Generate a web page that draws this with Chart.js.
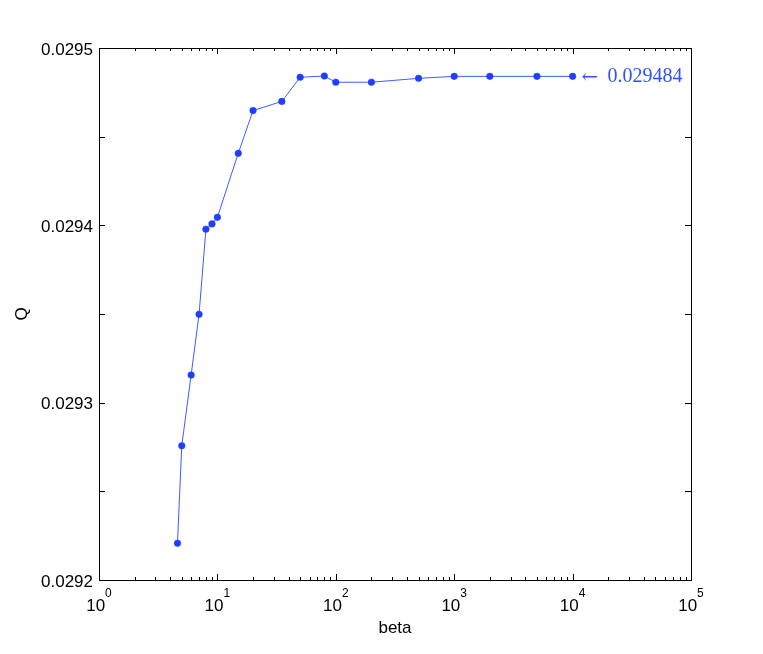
<!DOCTYPE html>
<html>
<head>
<meta charset="utf-8">
<script src="https://cdn.jsdelivr.net/npm/chart.js@4/dist/chart.umd.min.js"></script>
<style>
  html, body { margin: 0; padding: 0; background: #fff; }
  #wrap { width: 763px; height: 654px; }
</style>
</head>
<body>
<div id="wrap"><canvas id="qChart" width="763" height="654"></canvas></div>
<script>
// beta (log axis) vs Q
const betaValues = [4.6, 5, 6, 7, 8, 9, 10, 15, 20, 35, 50, 80, 100, 200, 500, 1000, 2000, 5000, 10000];
const qValues = [0.0292207, 0.0292757, 0.0293156, 0.0293498, 0.0293978, 0.0294008, 0.0294045,
                 0.0294406, 0.0294647, 0.0294699, 0.0294835, 0.0294842, 0.0294807, 0.0294807,
                 0.0294829, 0.029484, 0.029484, 0.029484, 0.029484];
const xDecades = [1, 10, 100, 1000, 10000, 100000];
const yTicks = [0.0292, 0.02925, 0.0293, 0.02935, 0.0294, 0.02945, 0.0295];
const yLabels = ['0.0292', '', '0.0293', '', '0.0294', '', '0.0295'];
const limitArrow = '\u2190';
const limitText = '0.029484';

const points = betaValues.map((b, i) => ({ x: b, y: qValues[i] }));

// frame, inward ticks, labels
const framePlugin = {
    id: 'frame',
    afterDraw(chart) {
        const { ctx, chartArea: a, scales } = chart;
        const xs = scales.x, ys = scales.y;
        ctx.save();
        ctx.strokeStyle = '#000';
        ctx.lineWidth = 1;
        ctx.strokeRect(a.left + 0.5, a.top + 0.5, a.right - a.left, a.bottom - a.top);

        ctx.beginPath();
        // x ticks (major + minor), bottom and top
        xDecades.forEach((d, i) => {
            const px = Math.round(xs.getPixelForValue(d)) + 0.5;
            ctx.moveTo(px, a.bottom); ctx.lineTo(px, a.bottom - 6);
            ctx.moveTo(px, a.top); ctx.lineTo(px, a.top + 6);
            if (i < xDecades.length - 1) {
                for (let k = 2; k <= 9; k++) {
                    const mx = Math.round(xs.getPixelForValue(d * k)) + 0.5;
                    ctx.moveTo(mx, a.bottom); ctx.lineTo(mx, a.bottom - 3);
                    ctx.moveTo(mx, a.top); ctx.lineTo(mx, a.top + 3);
                }
            }
        });
        // y ticks, left and right
        yTicks.forEach(v => {
            const py = Math.round(ys.getPixelForValue(v)) + 0.5;
            ctx.moveTo(a.left, py); ctx.lineTo(a.left + 6, py);
            ctx.moveTo(a.right, py); ctx.lineTo(a.right - 6, py);
        });
        ctx.stroke();

        ctx.fillStyle = '#000';
        // y labels
        ctx.font = '17px "Liberation Sans", Arial, sans-serif';
        ctx.textAlign = 'right';
        ctx.textBaseline = 'middle';
        yTicks.forEach((v, i) => {
            if (yLabels[i]) ctx.fillText(yLabels[i], a.left - 6, ys.getPixelForValue(v) + 2);
        });
        // x labels 10^n
        xDecades.forEach(d => {
            const px = xs.getPixelForValue(d);
            const exp = String(Math.round(Math.log10(d)));
            ctx.font = '17px "Liberation Sans", Arial, sans-serif';
            const w1 = ctx.measureText('10').width;
            ctx.font = '12px "Liberation Sans", Arial, sans-serif';
            const w2 = ctx.measureText(exp).width;
            const left = px - (w1 + w2) / 2;
            ctx.textAlign = 'left';
            ctx.textBaseline = 'alphabetic';
            ctx.font = '17px "Liberation Sans", Arial, sans-serif';
            ctx.fillText('10', left, a.bottom + 31);
            ctx.font = '12px "Liberation Sans", Arial, sans-serif';
            ctx.fillText(exp, left + w1, a.bottom + 17);
        });
        // axis titles
        ctx.font = '17px "Liberation Sans", Arial, sans-serif';
        ctx.textAlign = 'center';
        ctx.textBaseline = 'middle';
        ctx.fillText('beta', (a.left + a.right) / 2, a.bottom + 48);
        ctx.save();
        ctx.translate(22, (a.top + a.bottom) / 2);
        ctx.rotate(-Math.PI / 2);
        ctx.fillText('Q', 0, 0);
        ctx.restore();

        // limit annotation next to last point
        const lx = xs.getPixelForValue(betaValues[betaValues.length - 1]);
        const ly = ys.getPixelForValue(qValues[qValues.length - 1]);
        ctx.fillStyle = '#3050ff';
        ctx.textAlign = 'left';
        ctx.textBaseline = 'middle';
        ctx.font = '20px "DejaVu Serif", serif';
        ctx.fillText(limitArrow, lx + 9, ly + 1);
        ctx.font = '20px "Liberation Serif", "Times New Roman", serif';
        ctx.fillText(limitText, lx + 35, ly);
        ctx.restore();
    }
};

new Chart(document.getElementById('qChart').getContext('2d'), {
    type: 'line',
    data: {
        datasets: [{
            data: points,
            borderColor: '#3d5eff',
            borderWidth: 1,
            backgroundColor: '#1f3fff',
            pointBackgroundColor: '#1f3fff',
            pointBorderColor: '#1f3fff',
            pointRadius: 3.3,
            pointBorderWidth: 0.5,
            tension: 0,
            fill: false
        }]
    },
    options: {
        responsive: false,
        animation: false,
        layout: { padding: { left: 99, right: 72, top: 48, bottom: 74 } },
        plugins: {
            legend: { display: false },
            tooltip: { enabled: false }
        },
        scales: {
            x: {
                type: 'logarithmic',
                min: 1,
                max: 100000,
                display: false
            },
            y: {
                type: 'linear',
                min: 0.0292,
                max: 0.0295,
                display: false
            }
        }
    },
    plugins: [framePlugin]
});
</script>
</body>
</html>
